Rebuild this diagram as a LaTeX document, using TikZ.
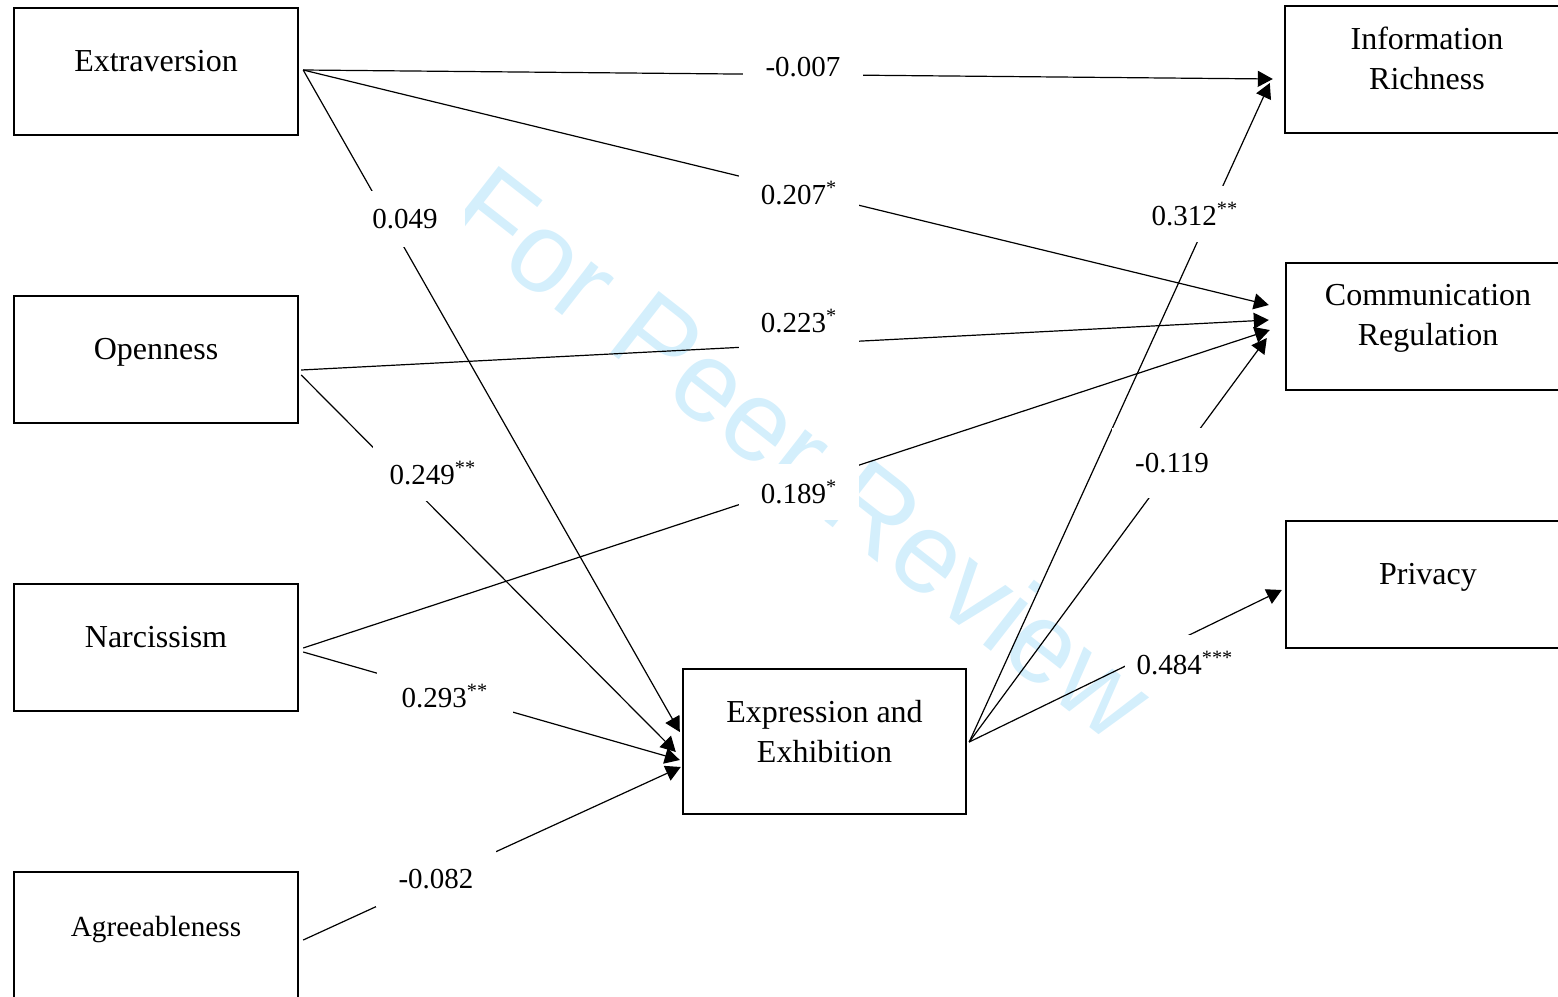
\documentclass[tikz,border=0pt]{standalone}
\usepackage{fontspec}
\setmainfont{Liberation Serif}
\newfontfamily\wmfont{Liberation Sans}
\usetikzlibrary{arrows.meta,calc}
\definecolor{wmblue}{RGB}{212,239,252}
\begin{document}
\begin{tikzpicture}[x=0.5pt,y=-0.5pt,
  box/.style={draw, line width=1.2pt, minimum width=142pt, minimum height=63.5pt, inner sep=0pt},
  boxtext/.style={font=\fontsize{16}{20}\selectfont, align=center, inner sep=0pt},
  lab/.style={fill=white, inner sep=0pt, minimum width=60pt, minimum height=28pt, font=\fontsize{14.5}{17}\selectfont},
  arr/.style={line width=0.6pt, -{Triangle[length=7.5pt,width=8pt]}},
  wm/.style={text=wmblue, font=\wmfont\fontsize{57}{60}\selectfont, rotate=-38, inner sep=0pt}
]
\useasboundingbox (0,0) rectangle (1558,996);
% watermark
\node[wm] (wmk) at (803,452) {For Peer Review};

% boxes
\node[box] (ext) at (156,71.5) {};
\node[box] (ope) at (156,359.5) {};
\node[box] (nar) at (156,647.5) {};
\node[box] (agr) at (156,935.5) {};
\node[box] (inf) at (1427,69.5) {};
\node[box] (com) at (1428,326.5) {};
\node[box] (pri) at (1428,584.5) {};
\node[box, minimum width=141.5pt, minimum height=72.5pt] (exp) at (824.5,741.5) {};

\node[boxtext] (extT) at (156,63) {\strut Extraversion};
\node[boxtext] (opeT) at (156,351) {\strut Openness};
\node[boxtext] (narT) at (156,639) {\strut Narcissism};
\node[boxtext, font=\fontsize{14.6}{20}\selectfont] (agrT) at (156,928) {\strut Agreeableness};
\node[boxtext] (infT) at (1427,58) {Information\\Richness};
\node[boxtext] (comT) at (1428,318) {Communication\\Regulation};
\node[boxtext] (priT) at (1428,576) {\strut Privacy};
\node[boxtext] (expT) at (824.5,732) {Expression and\\Exhibition};

% connectors
\draw[arr] ($(ext.east)+(4,-1.5)$) -- ($(inf.west)+(-11,9.5)$);
\draw[arr] ($(ext.east)+(4,-1.5)$) -- ($(com.west)+(-16,-21.5)$);
\draw[arr] ($(ext.east)+(4,-1.5)$) -- ($(exp.west)+(-2,-9.5)$);
\draw[arr] ($(ope.east)+(2,10.5)$) -- ($(com.west)+(-16,-6.5)$);
\draw[arr] ($(ope.east)+(2,15.5)$) -- ($(exp.west)+(-6,10.5)$);
\draw[arr] ($(nar.east)+(4,0.5)$) -- ($(com.west)+(-15,3.5)$);
\draw[arr] ($(nar.east)+(4,4.5)$) -- ($(exp.west)+(-2,18.5)$);
\draw[arr] ($(agr.east)+(4,4.5)$) -- ($(exp.west)+(-1,25.5)$);
\draw[arr] ($(exp.east)+(2,0.5)$) -- ($(inf.west)+(-14,13.5)$);
\draw[arr] ($(exp.east)+(2,0.5)$) -- ($(com.west)+(-18,11.5)$);
\draw[arr] ($(exp.east)+(2,0.5)$) -- ($(pri.west)+(-3,5.5)$);

% labels
\node[lab] (l1) at (803,67) {-0.007};
\node[lab] (l2) at (799,193) {0.207\textsuperscript{*}};
\node[lab] (l3) at (405,219) {0.049};
\node[lab] (l4) at (799,321) {0.223\textsuperscript{*}};
\node[lab] (l5) at (433,473) {0.249\textsuperscript{**}};
\node[lab] (l6) at (799,492) {0.189\textsuperscript{*}};
\node[lab, minimum width=68pt] (l7) at (445,696) {0.293\textsuperscript{**}};
\node[lab] (l8) at (436,879) {-0.082};
\node[lab] (l9) at (1195,214) {0.312\textsuperscript{**}};
\node[lab, minimum height=35pt] (l10) at (1172,463) {-0.119};
\node[lab] (l11) at (1185,663) {0.484\textsuperscript{***}};
\end{tikzpicture}
\end{document}
